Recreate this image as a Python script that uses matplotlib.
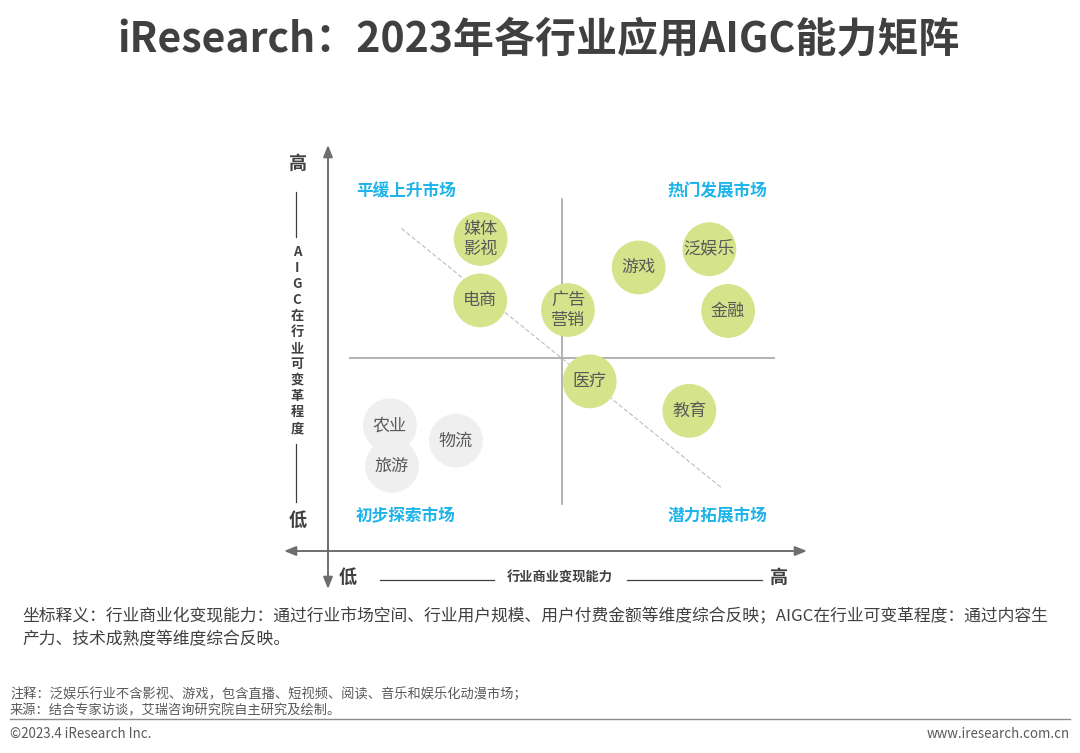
import matplotlib
matplotlib.use("Agg")
import matplotlib.pyplot as plt

plt.rcParams['font.family'] = ['Noto Sans CJK SC', 'DejaVu Sans']

# ---------------- data ----------------
title = "iResearch：2023年各行业应用AIGC能力矩阵"
industries = ["媒体\n影视", "电商", "广告\n营销", "游戏", "泛娱乐", "金融", "医疗", "教育", "农业", "旅游", "物流"]
# x: 行业商业变现能力 (0-10), y: AIGC在行业可变革程度 (0-10)
commercial = [3.09, 3.08, 5.14, 6.80, 8.46, 8.90, 5.65, 7.99, 0.96, 1.01, 2.51]
aigc_degree = [8.72, 6.80, 6.50, 7.83, 8.40, 6.47, 4.27, 3.35, 2.90, 1.63, 2.42]
is_active = [True, True, True, True, True, True, True, True, False, False, False]
quadrant_names = ["平缓上升市场", "热门发展市场", "初步探索市场", "潜力拓展市场"]
x_axis_label = "行业商业变现能力"
y_axis_label = "AIGC在行业可变革程度"
note_text = "坐标释义：行业商业化变现能力：通过行业市场空间、行业用户规模、用户付费金额等维度综合反映；AIGC在行业可变革程度：通过内容生"
note_text2 = "产力、技术成熟度等维度综合反映。"
footnote1 = "注释：泛娱乐行业不含影视、游戏，包含直播、短视频、阅读、音乐和娱乐化动漫市场；"
footnote2 = "来源：结合专家访谈，艾瑞咨询研究院自主研究及绘制。"
copyright_text = "©2023.4 iResearch Inc."
site_text = "www.iresearch.com.cn"

# ---------------- style ----------------
GREEN = "#D5E38A"
GREY_BUB = "#EFEFEF"
CYAN = "#1EB4EA"
DARK = "#404040"
MID = "#595959"
AXIS = "#6E6E6E"

W, H = 1080, 753
fig = plt.figure(figsize=(W / 100, H / 100), dpi=100)
fig.patch.set_facecolor("white")

# overlay axes in pixel coordinates
ov = fig.add_axes([0, 0, 1, 1])
ov.set_xlim(0, W)
ov.set_ylim(H, 0)
ov.axis("off")

# title
ov.text(538, 39, title, ha="center", va="center", fontsize=29.5, fontweight="bold", color=DARK)

# main axes arrows
arrow_kw = dict(arrowstyle="<|-|>,head_length=0.7,head_width=0.28", color=AXIS, lw=1.4, shrinkA=0, shrinkB=0)
ov.annotate("", xy=(328, 145), xytext=(328, 589), arrowprops=arrow_kw)
ov.annotate("", xy=(807, 551), xytext=(284, 551), arrowprops=arrow_kw)

# y-axis label
ov.text(298, 163, "高", ha="center", va="center", fontsize=13, fontweight="bold", color=DARK)
ov.text(298, 520, "低", ha="center", va="center", fontsize=13, fontweight="bold", color=DARK)
ov.plot([296, 296], [192, 237], color=DARK, lw=0.9)
ov.plot([296, 296], [444, 502], color=DARK, lw=0.9)
for i, ch in enumerate(y_axis_label):
    ov.text(297, 252 + 16 * i, ch, ha="center", va="center", fontsize=9.5, fontweight="bold", color=DARK)

# x-axis label
ov.text(348, 577, "低", ha="center", va="center", fontsize=13, fontweight="bold", color=DARK)
ov.text(779, 577, "高", ha="center", va="center", fontsize=13, fontweight="bold", color=DARK)
ov.plot([380, 494], [580, 580], color=DARK, lw=0.9)
ov.plot([627, 762], [580, 580], color=DARK, lw=0.9)
ov.text(560, 578, x_axis_label, ha="center", va="center", fontsize=9.5, fontweight="bold", color=DARK)

# quadrant names
q_pos = [(406, 191), (717, 191), (406, 516), (717, 516)]
for (qx, qy), name in zip(q_pos, quadrant_names):
    ov.text(qx, qy, name, ha="center", va="center", fontsize=12, fontweight="bold", color=CYAN)

# footer text
ov.text(22, 617, note_text, ha="left", va="center", fontsize=12.1, color=DARK)
ov.text(22, 640, note_text2, ha="left", va="center", fontsize=12.1, color=DARK)
ov.text(10, 694, footnote1, ha="left", va="center", fontsize=9.5, color=MID)
ov.text(10, 711, footnote2, ha="left", va="center", fontsize=9.5, color=MID)
ov.plot([10, 1070], [719, 719], color="#8C8C8C", lw=1.0)
ov.text(10, 734, copyright_text, ha="left", va="center", fontsize=9.6, color=MID)
ov.text(1070, 734, site_text, ha="right", va="center", fontsize=9.6, color=MID)

# matrix axes (data coordinates)
ax = fig.add_axes([349 / W, (H - 518) / H, 426 / W, 320 / H])
ax.set_xlim(0, 10)
ax.set_ylim(0, 10)
ax.axis("off")
ax.patch.set_alpha(0)

# quadrant dividers
ax.plot([5, 5], [0.44, 9.97], color="#A6A6A6", lw=1.2, zorder=1)
ax.plot([0, 10], [5, 5], color="#A6A6A6", lw=1.2, zorder=1)
# diagonal reference
ax.plot([1.23, 8.74], [9.05, 0.95], color="#BDBDBD", lw=0.8, ls=(0, (4, 2)), zorder=1)

for name, cx, cy, act in zip(industries, commercial, aigc_degree, is_active):
    ax.scatter([cx], [cy], s=1500, color=GREEN if act else GREY_BUB, edgecolors="none", zorder=3)
    ax.text(cx, cy, name, ha="center", va="center", fontsize=12.3, color=MID, zorder=4, linespacing=1.15)

fig.savefig("out.png", dpi=100)
